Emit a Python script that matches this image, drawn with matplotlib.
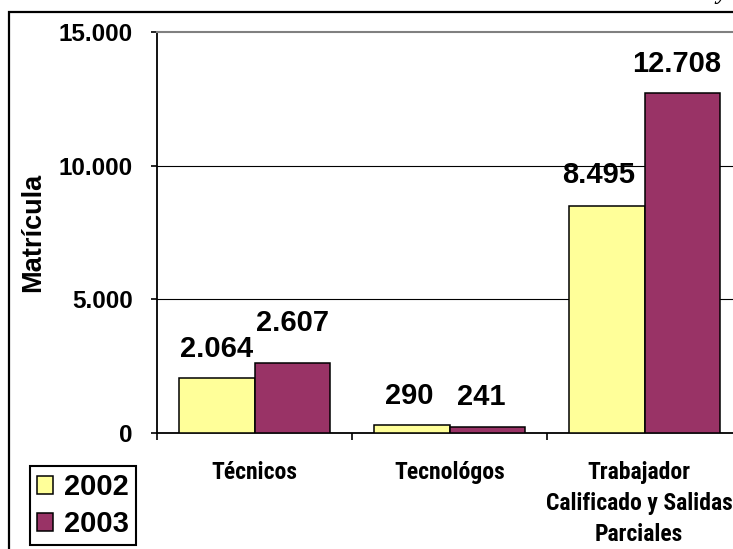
import matplotlib
matplotlib.use("Agg")
import matplotlib.pyplot as plt
from matplotlib import font_manager
from matplotlib.patches import Rectangle, Patch
import numpy as np

# data
categorias = ["Técnicos", "Tecnológos", "Trabajador\nCalificado y Salidas\nParciales"]
anios = ["2002", "2003"]
mat_2002 = [2064, 290, 8495]
mat_2003 = [2607, 241, 12708]
etiquetas_2002 = ["2.064", "290", "8.495"]
etiquetas_2003 = ["2.607", "241", "12.708"]
yticks = [0, 5000, 10000, 15000]
ytick_labels = ["0", "5.000", "10.000", "15.000"]

color_2002 = "#FFFF99"
color_2003 = "#993366"

nombres = {f.name for f in font_manager.fontManager.ttflist}
fuente = "Liberation Sans" if "Liberation Sans" in nombres else "DejaVu Sans"
# narrow face for the category names, take the first one that is installed
fuente_cat = "DejaVu Sans"
for cand in ["Liberation Sans Narrow", "Arial Narrow", "Roboto Condensed", "Roboto"]:
    if cand in nombres:
        fuente_cat = cand
        break
plt.rcParams["font.family"] = fuente

W, H = 733, 549
fig = plt.figure(figsize=(W / 100, H / 100), dpi=100)

def px(x, y):
    # pixel coords (from top-left) -> figure fraction
    return x / W, 1 - y / H

# outer chart frame, runs off the right and bottom edges
fig.patches.append(Rectangle(px(9, 600), 1.2, (600 - 12) / H, transform=fig.transFigure,
                             fill=False, edgecolor="black", linewidth=1.6))
# bit of a cut-off title at the top right
fig.text(722 / W, 1 + 1 / H, "y", fontsize=17, style="italic", fontweight="bold",
         family="Liberation Serif", va="baseline", ha="center")

left, bottom = px(157, 433)
ax = fig.add_axes([left, bottom, (742 - 157) / W, (433 - 32) / H])

x = np.arange(len(categorias))
ancho = 0.385
ax.bar(x - ancho / 2, mat_2002, ancho, color=color_2002, edgecolor="black",
       linewidth=1.1, label=anios[0], zorder=3)
ax.bar(x + ancho / 2, mat_2003, ancho, color=color_2003, edgecolor="black",
       linewidth=1.1, label=anios[1], zorder=3)

ax.set_xlim(-0.5, 2.5)
ax.set_ylim(0, 15000)

# gridlines
for v in yticks[1:-1]:
    ax.axhline(v, color="black", linewidth=0.8, zorder=1)

ax.spines["right"].set_visible(False)
ax.spines["top"].set_color("#808080")
ax.spines["top"].set_linewidth(1.5)
ax.spines["left"].set_linewidth(1.3)
ax.spines["bottom"].set_linewidth(1.3)

ax.set_yticks(yticks)
ax.set_yticklabels(ytick_labels, fontsize=17.5, fontweight="bold")
ax.tick_params(axis="y", direction="out", length=4.5, width=1.2, pad=13)

ax.set_xticks(x)
ax.set_xticklabels([])
ax.tick_params(axis="x", which="major", length=0)
ax.set_xticks(np.arange(-0.5, 3, 1), minor=True)
ax.tick_params(axis="x", which="minor", direction="out", length=5, width=1.2)

for i, cat in enumerate(categorias):
    ax.annotate(cat, xy=(x[i], 0), xycoords=("data", "axes fraction"),
                xytext=(-4 * (i == 2), -20), textcoords="offset points",
                ha="center", va="top", fontsize=17, fontweight="bold",
                linespacing=1.45, family=fuente_cat)

ax.set_ylabel("Matrícula", fontsize=19.5, fontweight="bold")
ax.yaxis.set_label_coords(-0.19, 0.5)

# value labels above the bars (offsets in points, 2.607 sits higher)
dx_2002 = [0, -2, -6]
dx_2003 = [0, -4, -4]
dy_2002 = [11, 11, 12]
dy_2003 = [19, 11, 11]
for i in range(len(categorias)):
    ax.annotate(etiquetas_2002[i], xy=(x[i] - ancho / 2, mat_2002[i]),
                xytext=(dx_2002[i], dy_2002[i]), textcoords="offset points",
                ha="center", va="bottom", fontsize=21, fontweight="bold")
    ax.annotate(etiquetas_2003[i], xy=(x[i] + ancho / 2, mat_2003[i]),
                xytext=(dx_2003[i], dy_2003[i]), textcoords="offset points",
                ha="center", va="bottom", fontsize=21, fontweight="bold")

handles = [Patch(facecolor=color_2002, edgecolor="black", linewidth=1.1),
           Patch(facecolor=color_2003, edgecolor="black", linewidth=1.1)]
leg = fig.legend(handles, anios, loc="upper left", bbox_to_anchor=px(30, 466),
                 prop=dict(family=fuente, weight="bold", size=21),
                 handlelength=0.55, handleheight=0.55, handletextpad=0.35,
                 labelspacing=0.3, borderpad=0.25, borderaxespad=0,
                 fancybox=False, framealpha=1, edgecolor="black")
leg.get_frame().set_linewidth(1.5)

fig.savefig("out.png", dpi=100)
